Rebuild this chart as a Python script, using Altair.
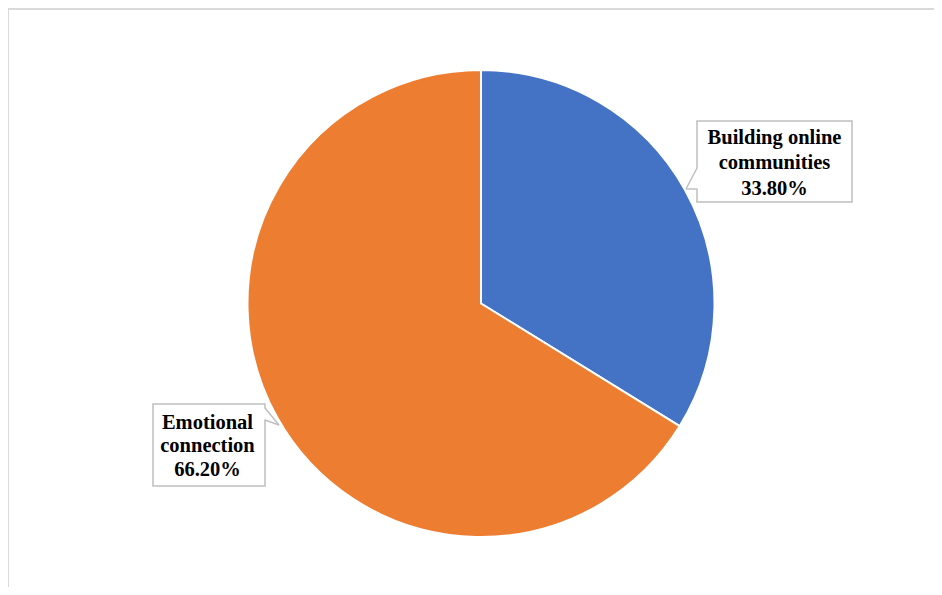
import altair as alt
import pandas as pd

# Data
categories = ["Building online communities", "Emotional connection"]
shares = [33.8, 66.2]
colors = ["#4472C4", "#ED7D31"]
label_lines = [["Building online", "communities", "33.80%"],
               ["Emotional", "connection", "66.20%"]]

pie_df = pd.DataFrame({"category": categories, "share": shares, "idx": [0, 1]})

pie = alt.Chart(pie_df).mark_arc(outerRadius=233.5, stroke="white", strokeWidth=2).encode(
    theta=alt.Theta("share:Q", stack=True),
    order=alt.Order("idx:Q"),
    color=alt.Color("category:N", scale=alt.Scale(domain=categories, range=colors), legend=None),
    x=alt.value(473),
    y=alt.value(295.5),
)

# callout boxes (layout positions)
boxes = pd.DataFrame({
    "x": [689, 145], "x2": [844, 257],
    "y": [113, 396], "y2": [194, 478],
})
box = alt.Chart(boxes).mark_rect(fill="white", stroke="#BFBFBF", strokeWidth=1.5).encode(
    x=alt.X("x:Q", scale=None), x2="x2:Q",
    y=alt.Y("y:Q", scale=None), y2="y2:Q",
)

gaps = pd.DataFrame({
    "x": [689, 257], "x2": [689, 257],
    "y": [160.5, 400.5], "y2": [180.5, 411.5],
})
gap = alt.Chart(gaps).mark_rule(color="white", strokeWidth=3).encode(
    x=alt.X("x:Q", scale=None), x2="x2:Q",
    y=alt.Y("y:Q", scale=None), y2="y2:Q",
)

ptr = pd.DataFrame({
    "x": [689, 678, 257, 271], "x2": [678, 689, 271, 257],
    "y": [160, 181, 400, 417], "y2": [181, 181, 417, 412],
})
pointer = alt.Chart(ptr).mark_rule(color="#BFBFBF", strokeWidth=1.5).encode(
    x=alt.X("x:Q", scale=None), x2="x2:Q",
    y=alt.Y("y:Q", scale=None), y2="y2:Q",
)

text_rows = []
anchors = [(766.5, [130, 155, 180.5]), (199.5, [415, 437.5, 462])]
for lines, (cx, ys) in zip(label_lines, anchors):
    for t, yy in zip(lines, ys):
        text_rows.append({"x": cx, "y": yy, "t": t})
text_df = pd.DataFrame(text_rows)
texts = alt.Chart(text_df).mark_text(
    font="Liberation Serif", fontSize=20.5, fontWeight="bold", color="black",
    align="center", baseline="middle",
).encode(
    x=alt.X("x:Q", scale=None), y=alt.Y("y:Q", scale=None), text="t:N",
)

frame_df = pd.DataFrame({"x": [0, 0], "x2": [940, 0], "y": [1, 1], "y2": [1, 600]})
frame = alt.Chart(frame_df).mark_rule(color="#D9D9D9", strokeWidth=2).encode(
    x=alt.X("x:Q", scale=None), x2="x2:Q",
    y=alt.Y("y:Q", scale=None), y2="y2:Q",
)

chart = alt.layer(pie, box, gap, pointer, texts, frame).properties(
    width=926, height=579,
    autosize=alt.AutoSizeParams(type="none"),
    padding=0,
).configure_view(stroke=None)

chart.save("out.html", embed_options={"renderer": "svg", "actions": False})
